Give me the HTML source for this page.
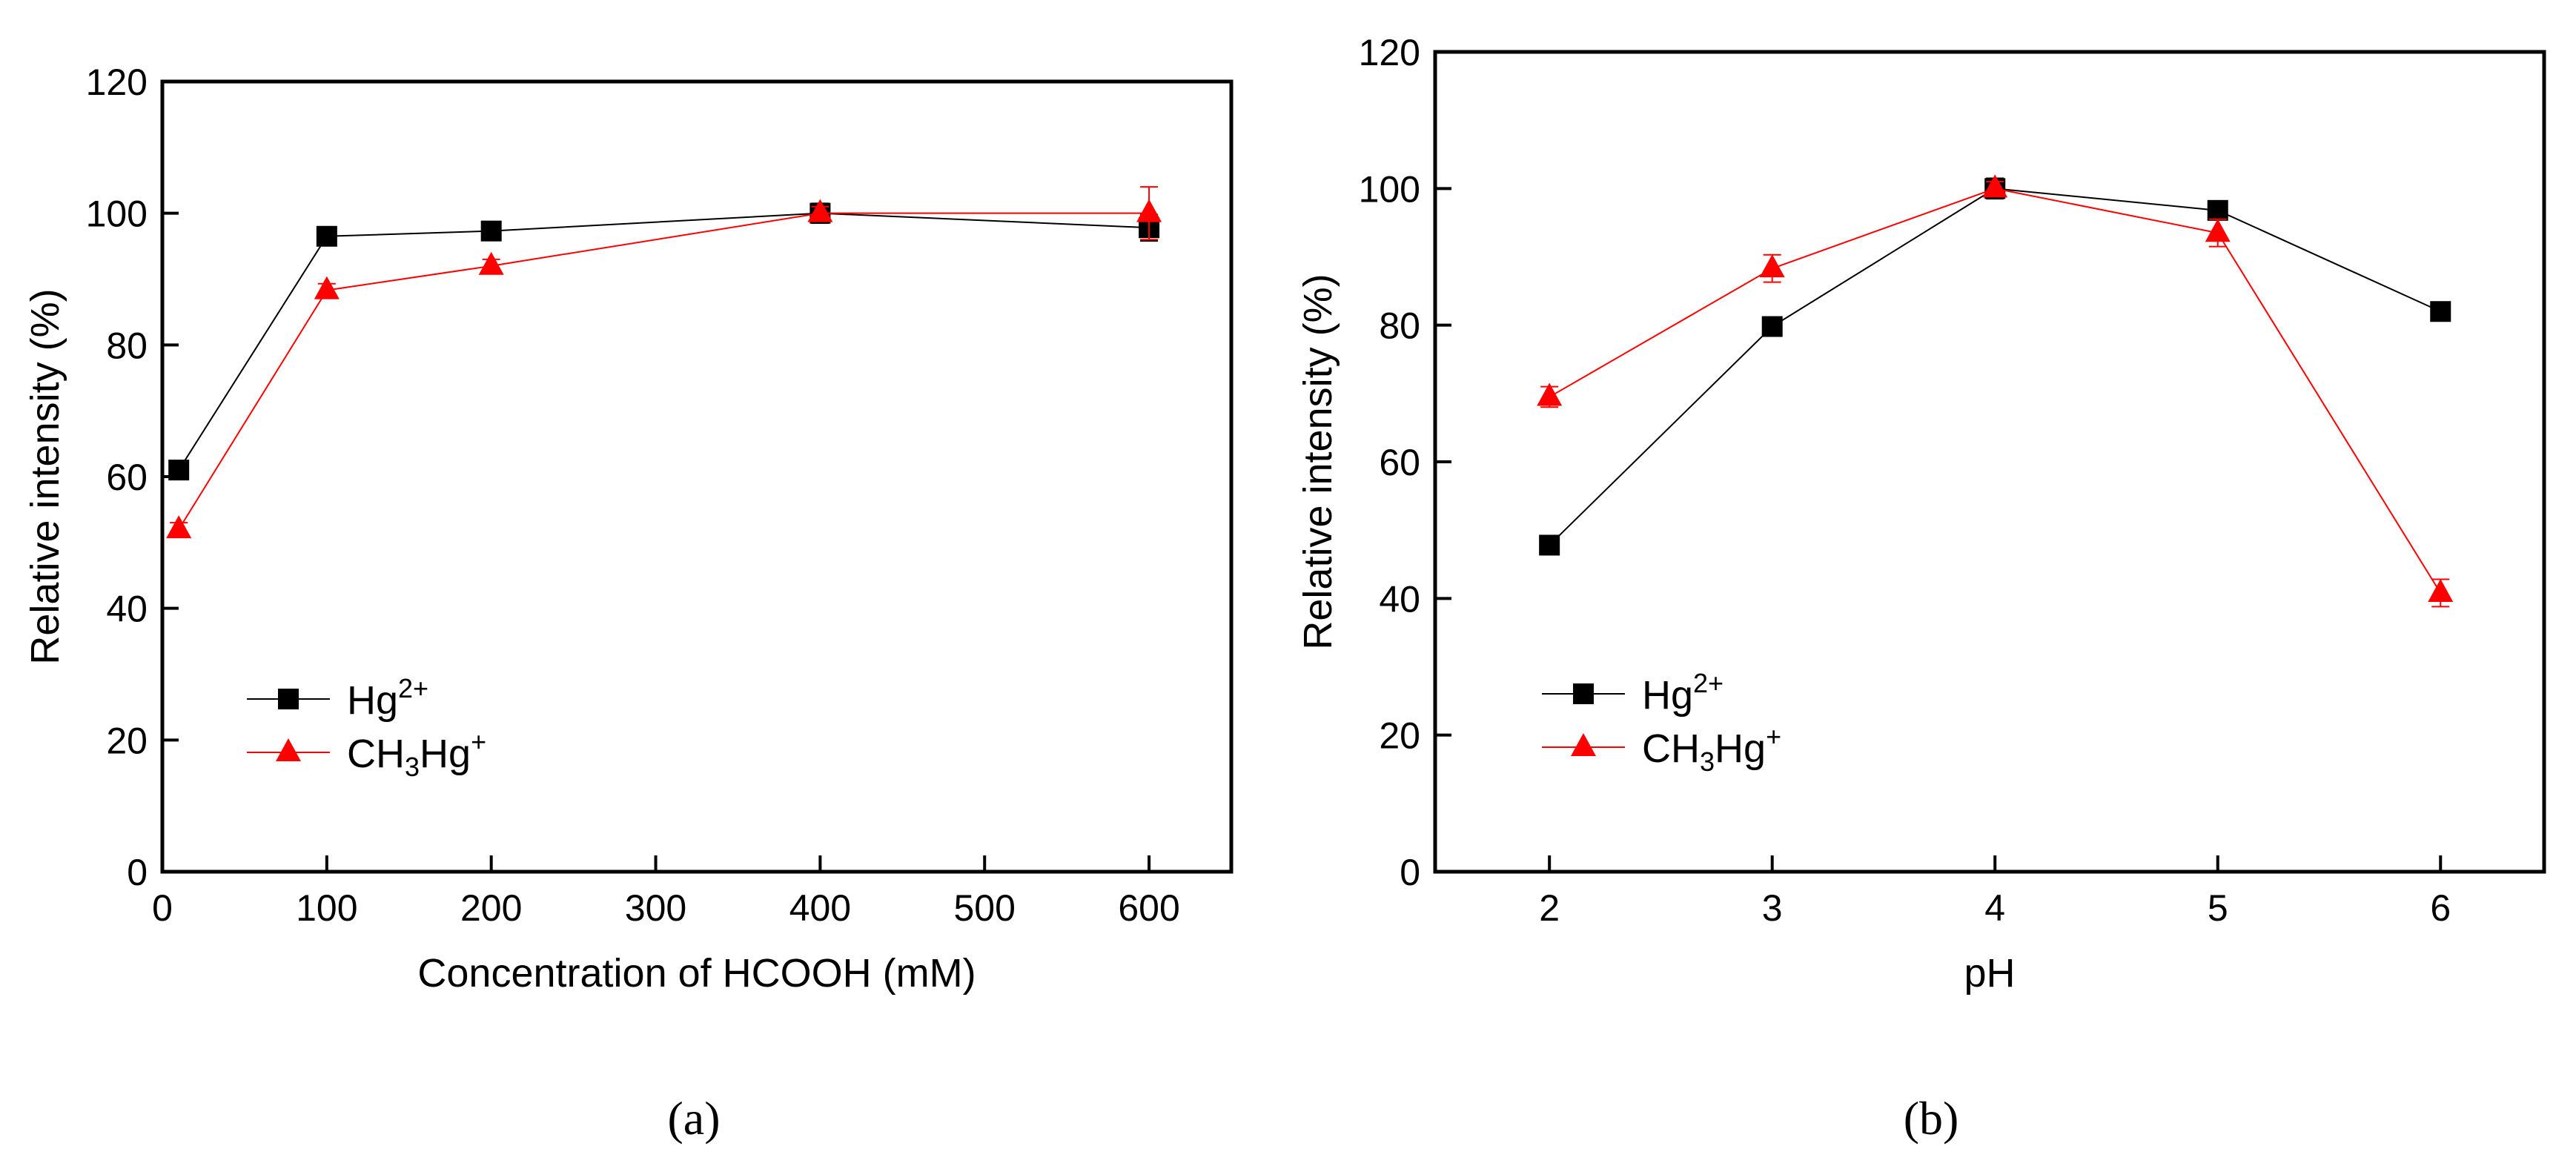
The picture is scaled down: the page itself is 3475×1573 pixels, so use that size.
<!DOCTYPE html>
<html><head><meta charset="utf-8">
<style>
html,body{margin:0;padding:0;background:#fff;}
svg{display:block;font-family:"Liberation Sans",sans-serif;}
</style></head>
<body>
<svg id="fig" width="3475" height="1573" viewBox="0 0 3475 1573"></svg>
<script>
// Panel (a) data
const aX = [10, 100, 200, 400, 600];
const aHg = [61, 96.5, 97.3, 100, 97.8];
const aHgErr = [1, 1.2, 0.8, 1.5, 2];
const aMe = [52, 88.3, 92, 100, 100];
const aMeErr = [1, 1, 1, 1, 4];
const aXTicks = [0, 100, 200, 300, 400, 500, 600];
// Panel (b) data
const bX = [2, 3, 4, 5, 6];
const bHg = [47.8, 79.8, 100, 96.8, 82];
const bHgErr = [1, 1, 1.5, 1, 1];
const bMe = [69.5, 88.3, 100, 93.5, 40.8];
const bMeErr = [1.5, 2, 1, 2, 2];
const bXTicks = [2, 3, 4, 5, 6];
const yTicks = [0, 20, 40, 60, 80, 100, 120];

const NS = "http://www.w3.org/2000/svg";
const svg = document.getElementById('fig');
function mk(tag, attrs, parent){
  const e = document.createElementNS(NS, tag);
  for (const k in attrs) e.setAttribute(k, attrs[k]);
  (parent || svg).appendChild(e);
  return e;
}

function panel(cfg){
  const g = mk('g', {});
  
  
  const X = v => cfg.x0 + (v - cfg.xmin) / (cfg.xmax - cfg.xmin) * (cfg.x1 - cfg.x0);
  const Y = v => cfg.y0 - v / 120 * (cfg.y0 - cfg.y1);
  const fr = mk('rect', {x: cfg.x0, y: cfg.y1, width: cfg.x1 - cfg.x0, height: cfg.y0 - cfg.y1, fill: 'none', stroke: '#000', 'stroke-width': 5}, g);
  
  
  yTicks.forEach(t => {
    const y = Y(t);
    mk('line', {x1: cfg.x0, x2: cfg.x0 + 22, y1: y, y2: y, stroke: '#000', 'stroke-width': 4}, g);
    const tx = mk('text', {x: cfg.x0 - 20, y: y + 18, 'font-size': 50, 'text-anchor': 'end'}, g);
    tx.textContent = t;
    
    
  });
  cfg.xticks.forEach(t => {
    const x = X(t);
    mk('line', {x1: x, x2: x, y1: cfg.y0, y2: cfg.y0 - 22, stroke: '#000', 'stroke-width': 4}, g);
    const tx = mk('text', {x: x, y: cfg.y0 + 66, 'font-size': 50, 'text-anchor': 'middle'}, g);
    tx.textContent = t;
    
    
  });
  const yt = mk('text', {x: 0, y: 0, 'font-size': 54, 'text-anchor': 'middle', transform: `translate(${cfg.x0 - 140},${(cfg.y0 + cfg.y1) / 2}) rotate(-90)`}, g);
  yt.textContent = 'Relative intensity (%)';
  
  
  const xt = mk('text', {x: (cfg.x0 + cfg.x1) / 2, y: cfg.y0 + 155, 'font-size': 54, 'text-anchor': 'middle'}, g);
  xt.textContent = cfg.xtitle;
  
  
  function series(xs, ys, es, color, shape, nm){
    const sg = mk('g', {}, g);
    
    
    mk('polyline', {points: xs.map((x, i) => X(x) + ',' + Y(ys[i])).join(' '), fill: 'none', stroke: color, 'stroke-width': 2}, sg);
    xs.forEach((x, i) => {
      const cx = X(x), cy = Y(ys[i]);
      const e1 = Y(ys[i] + es[i]), e2 = Y(ys[i] - es[i]);
      mk('line', {x1: cx, x2: cx, y1: e1, y2: e2, stroke: color, 'stroke-width': 2}, sg);
      mk('line', {x1: cx - 12, x2: cx + 12, y1: e1, y2: e1, stroke: color, 'stroke-width': 2}, sg);
      mk('line', {x1: cx - 12, x2: cx + 12, y1: e2, y2: e2, stroke: color, 'stroke-width': 2}, sg);
      let m;
      if (shape === 'sq') m = mk('rect', {x: cx - 14, y: cy - 14, width: 28, height: 28, fill: color}, sg);
      else m = mk('polygon', {points: `${cx},${cy - 19} ${cx - 17},${cy + 12} ${cx + 17},${cy + 12}`, fill: color}, sg);
      
      
    });
  }
  series(cfg.xs, cfg.hg, cfg.hgE, '#000', 'sq', 'series-hg2plus');
  series(cfg.xs, cfg.me, cfg.meE, '#f00', 'tri', 'series-ch3hg');
  const lg = mk('g', {}, g);
  
  
  const lx = cfg.lx, ly = cfg.ly;
  mk('line', {x1: lx, x2: lx + 112, y1: ly, y2: ly, stroke: '#000', 'stroke-width': 2}, lg);
  mk('rect', {x: lx + 42, y: ly - 14, width: 28, height: 28, fill: '#000'}, lg);
  const t1 = mk('text', {x: lx + 135, y: ly + 20, 'font-size': 54}, lg);
  t1.innerHTML = 'Hg<tspan dy="-22" font-size="36">2+</tspan>';
  
  
  const ly2 = ly + 72;
  mk('line', {x1: lx, x2: lx + 112, y1: ly2, y2: ly2, stroke: '#f00', 'stroke-width': 2}, lg);
  mk('polygon', {points: `${lx + 56},${ly2 - 19} ${lx + 39},${ly2 + 12} ${lx + 73},${ly2 + 12}`, fill: '#f00'}, lg);
  const t2 = mk('text', {x: lx + 135, y: ly2 + 20, 'font-size': 54}, lg);
  t2.innerHTML = 'CH<tspan dy="12" font-size="36">3</tspan><tspan dy="-12">Hg</tspan><tspan dy="-22" font-size="36">+</tspan>';
  
  
  const pl = mk('text', {x: cfg.labelX, y: 1530, 'font-size': 64, 'text-anchor': 'middle', 'font-family': '"Liberation Serif",serif'}, g);
  pl.textContent = cfg.label;
  
  
}

panel({name: 'panel-a', x0: 219, x1: 1661, y0: 1176, y1: 110, xmin: 0, xmax: 650,
  xticks: aXTicks, xs: aX, hg: aHg, hgE: aHgErr, me: aMe, meE: aMeErr,
  xtitle: 'Concentration of HCOOH (mM)', lx: 333, ly: 943, label: '(a)', labelX: 936});
panel({name: 'panel-b', x0: 1936, x1: 3432, y0: 1176, y1: 70, xmin: 1.487, xmax: 6.465,
  xticks: bXTicks, xs: bX, hg: bHg, hgE: bHgErr, me: bMe, meE: bMeErr,
  xtitle: 'pH', lx: 2080, ly: 936, label: '(b)', labelX: 2605});
</script>
</body></html>
